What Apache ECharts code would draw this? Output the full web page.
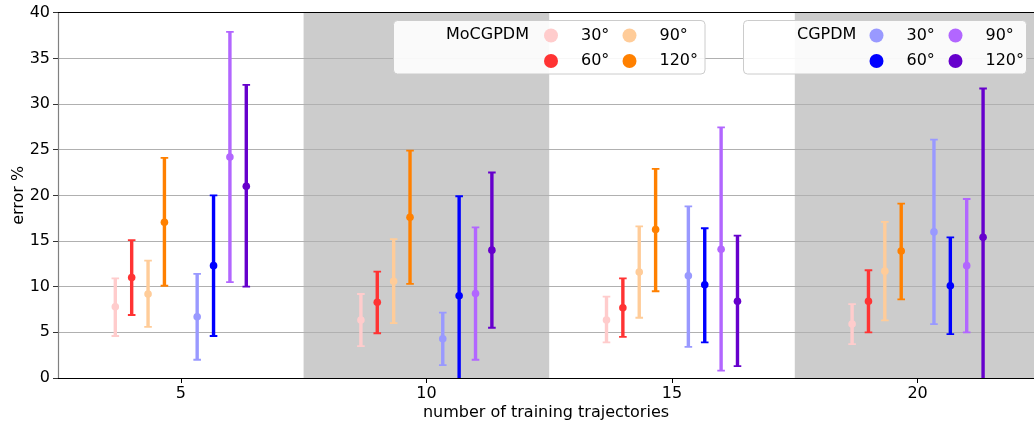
<!DOCTYPE html>
<html>
<head>
<meta charset="utf-8">
<script src="https://cdn.jsdelivr.net/npm/echarts@6/dist/echarts.min.js"></script>
<style>
html,body{margin:0;padding:0;background:#fff;}
#chart{width:1034px;height:426px;}
</style>
</head>
<body>
<div id="chart"></div>
<script>
// ---- data ----
const trajectories = [5, 10, 15, 20];
const angles = ['30°', '60°', '90°', '120°'];
const methods = ['MoCGPDM', 'CGPDM'];

const mo30Mean = [7.8, 6.35, 6.35, 5.9];
const mo30Low  = [4.6, 3.5, 3.9, 3.7];
const mo30High = [10.9, 9.2, 8.9, 8.1];
const mo60Mean = [11.0, 8.3, 7.7, 8.4];
const mo60Low  = [6.9, 4.9, 4.5, 5.0];
const mo60High = [15.1, 11.65, 10.9, 11.8];
const mo90Mean = [9.2, 10.6, 11.6, 11.7];
const mo90Low  = [5.6, 6.0, 6.6, 6.3];
const mo90High = [12.85, 15.2, 16.6, 17.1];
const mo120Mean = [17.05, 17.6, 16.25, 13.9];
const mo120Low  = [10.1, 10.3, 9.5, 8.6];
const mo120High = [24.1, 24.9, 22.9, 19.1];

const cg30Mean = [6.7, 4.3, 11.2, 16.0];
const cg30Low  = [2.0, 1.4, 3.4, 5.9];
const cg30High = [11.4, 7.15, 18.8, 26.1];
const cg60Mean = [12.3, 9.0, 10.2, 10.1];
const cg60Low  = [4.6, -1.9, 3.9, 4.8];
const cg60High = [20.0, 19.9, 16.4, 15.4];
const cg90Mean = [24.2, 9.25, 14.1, 12.3];
const cg90Low  = [10.5, 2.0, 0.8, 5.0];
const cg90High = [37.9, 16.5, 27.45, 19.6];
const cg120Mean = [21.0, 14.0, 8.4, 15.4];
const cg120Low  = [10.0, 5.5, 1.3, -0.9];
const cg120High = [32.1, 22.5, 15.6, 31.7];

// ---- styles / layout ----
const FONT = 'DejaVu Sans';
const seriesDefs = [
  {name: 'MoCGPDM 30°', mean: mo30Mean, low: mo30Low, high: mo30High, color: '#ffcccc', off: -4/3},
  {name: 'MoCGPDM 60°', mean: mo60Mean, low: mo60Low, high: mo60High, color: '#ff3333', off: -1},
  {name: 'MoCGPDM 90°', mean: mo90Mean, low: mo90Low, high: mo90High, color: '#ffcc99', off: -2/3},
  {name: 'MoCGPDM 120°', mean: mo120Mean, low: mo120Low, high: mo120High, color: '#ff8000', off: -1/3},
  {name: 'CGPDM 30°', mean: cg30Mean, low: cg30Low, high: cg30High, color: '#9999ff', off: 1/3},
  {name: 'CGPDM 60°', mean: cg60Mean, low: cg60Low, high: cg60High, color: '#0000ff', off: 2/3},
  {name: 'CGPDM 90°', mean: cg90Mean, low: cg90Low, high: cg90High, color: '#b266ff', off: 1},
  {name: 'CGPDM 120°', mean: cg120Mean, low: cg120Low, high: cg120High, color: '#6600cc', off: 4/3}
];

function errorBarRender(color) {
  return function (params, api) {
    const x = api.value(0);
    const pLow = api.coord([x, api.value(1)]);
    const pMean = api.coord([x, api.value(2)]);
    const pHigh = api.coord([x, api.value(3)]);
    const capW = 3.8;
    return {
      type: 'group',
      children: [
        {type: 'line', shape: {x1: pLow[0], y1: pLow[1], x2: pHigh[0], y2: pHigh[1]},
         style: {stroke: color, lineWidth: 3.4}},
        {type: 'line', shape: {x1: pLow[0] - capW, y1: pLow[1], x2: pLow[0] + capW, y2: pLow[1]},
         style: {stroke: color, lineWidth: 1.8}},
        {type: 'line', shape: {x1: pHigh[0] - capW, y1: pHigh[1], x2: pHigh[0] + capW, y2: pHigh[1]},
         style: {stroke: color, lineWidth: 1.8}},
        {type: 'circle', shape: {cx: pMean[0], cy: pMean[1], r: 3.8}, style: {fill: color}}
      ]
    };
  };
}

const shadeData = trajectories.filter((t, i) => i % 2 === 1).map(t => [t - 2.5, t + 2.5]);

const series = [{
  type: 'custom',
  name: 'shade',
  silent: true,
  clip: true,
  z: 1,
  data: shadeData,
  renderItem: function (params, api) {
    const p0 = api.coord([api.value(0), 40]);
    const p1 = api.coord([api.value(1), 0]);
    return {type: 'rect', shape: {x: p0[0], y: p0[1], width: p1[0] - p0[0], height: p1[1] - p0[1]},
            style: {fill: '#cccccc'}};
  }
}];

seriesDefs.forEach(d => {
  series.push({
    type: 'custom',
    name: d.name,
    clip: true,
    z: 5,
    itemStyle: {color: d.color},
    data: trajectories.map((t, i) => [t + d.off, d.low[i], d.mean[i], d.high[i]]),
    renderItem: errorBarRender(d.color)
  });
});

function legendCol(names, left, top) {
  return {
    data: names, orient: 'vertical', left: left, top: top, padding: 0, z: 100,
    itemWidth: 14, itemHeight: 14, itemGap: 9.5, icon: 'circle',
    formatter: n => n.split(' ')[1],
    textStyle: {fontFamily: FONT, fontSize: 16, color: '#000', padding: [0, 0, 0, 18]}
  };
}

const option = {
  animation: false,
  backgroundColor: '#fff',
  grid: {left: 58, right: 0, top: 12.7, bottom: 48, outerBoundsMode: 'none', containLabel: false},
  xAxis: [{
    type: 'value', min: 2.5, max: 22.37, z: 3,
    name: 'number of training trajectories', nameLocation: 'middle', nameGap: 27, nameMoveOverlap: false,
    nameTextStyle: {fontFamily: FONT, fontSize: 16, color: '#000'},
    axisLine: {lineStyle: {color: '#000', width: 1.2}},
    axisTick: {show: true, length: 5, customValues: trajectories, lineStyle: {color: '#000'}},
    axisLabel: {customValues: trajectories, fontFamily: FONT, fontSize: 16, color: '#000', margin: 8},
    splitLine: {show: false}
  }, {
    type: 'value', min: 2.5, max: 22.37, position: 'top', z: 3,
    axisLine: {show: true, lineStyle: {color: '#000', width: 1.2}},
    axisTick: {show: false}, axisLabel: {show: false}, splitLine: {show: false}
  }],
  yAxis: {
    type: 'value', min: 0, max: 40, interval: 5, z: 3,
    name: 'error %', nameLocation: 'middle', nameGap: 31, nameRotate: 90, nameMoveOverlap: false,
    nameTextStyle: {fontFamily: FONT, fontSize: 16, color: '#000'},
    axisLine: {show: true, lineStyle: {color: '#808080', width: 1.2}},
    axisTick: {show: true, length: 5, lineStyle: {color: '#333'}},
    axisLabel: {fontFamily: FONT, fontSize: 16, color: '#000', margin: 8},
    splitLine: {show: true, lineStyle: {color: '#b0b0b0', width: 1}}
  },
  legend: [
    legendCol(['MoCGPDM 30°', 'MoCGPDM 60°'], 544, 27.5),
    legendCol(['MoCGPDM 90°', 'MoCGPDM 120°'], 622.5, 27.5),
    legendCol(['CGPDM 30°', 'CGPDM 60°'], 869.5, 27.5),
    legendCol(['CGPDM 90°', 'CGPDM 120°'], 948.5, 27.5)
  ],
  graphic: [
    {type: 'rect', z: 50, shape: {x: 393.5, y: 20.5, width: 311.5, height: 53.5, r: 4},
     style: {fill: 'rgba(255,255,255,0.9)', stroke: '#cccccc', lineWidth: 1}},
    {type: 'text', z: 51, x: 446, y: 35, style: {text: methods[0], font: '16px "DejaVu Sans"', fill: '#000', verticalAlign: 'middle'}},
    {type: 'rect', z: 50, shape: {x: 743.5, y: 20.5, width: 283, height: 53.5, r: 4},
     style: {fill: 'rgba(255,255,255,0.9)', stroke: '#cccccc', lineWidth: 1}},
    {type: 'text', z: 51, x: 797, y: 35, style: {text: methods[1], font: '16px "DejaVu Sans"', fill: '#000', verticalAlign: 'middle'}}
  ],
  series: series
};

const chart = echarts.init(document.getElementById('chart'), null, {renderer: 'canvas'});
chart.setOption(option);
</script>
</body>
</html>
